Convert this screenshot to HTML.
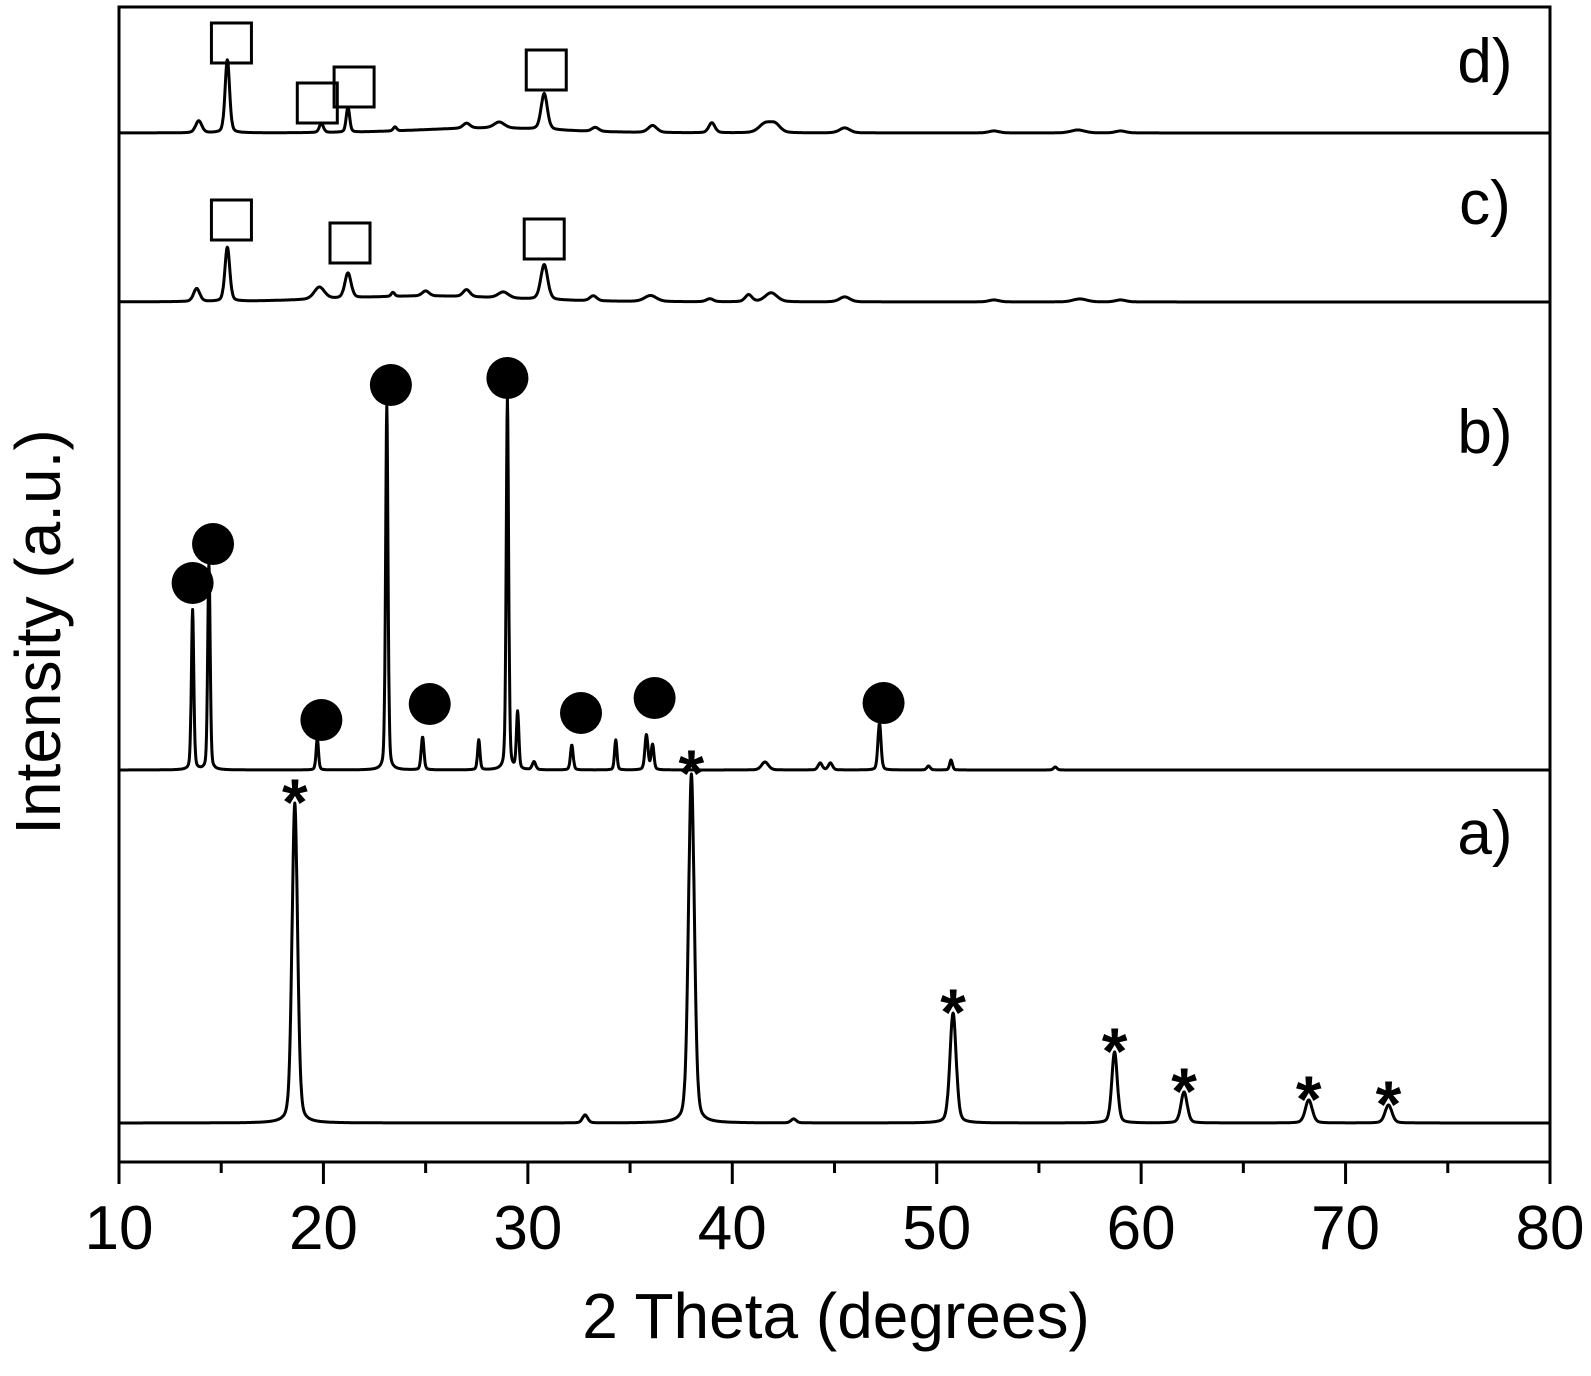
<!DOCTYPE html>
<html><head><meta charset="utf-8"><style>
html,body{margin:0;padding:0;background:#fff;}
svg{display:block;font-family:"Liberation Sans",Arial,sans-serif;}
</style></head><body>
<svg id="chart" width="1591" height="1376" viewBox="0 0 1591 1376" xmlns="http://www.w3.org/2000/svg">
<rect x="119" y="7" width="1431" height="1155" fill="none" stroke="#000" stroke-width="3"/>
<g id="xticks"></g>
<g id="series"></g>
<g id="markers"></g>
<text x="836" y="1338" font-size="64" text-anchor="middle">2 Theta (degrees)</text>
<text transform="translate(60,632) rotate(-90)" font-size="64" text-anchor="middle">Intensity (a.u.)</text>
<text x="1485" y="82" font-size="62" text-anchor="middle">d)</text>
<text x="1485" y="224" font-size="62" text-anchor="middle">c)</text>
<text x="1485" y="453" font-size="62" text-anchor="middle">b)</text>
<text x="1485" y="854" font-size="62" text-anchor="middle">a)</text>
</svg>
<script>
const xTicks = [10,20,30,40,50,60,70,80];
const xMinor = [15,25,35,45,55,65,75];
// series a
const aPos = [18.6, 32.8, 38.0, 43.0, 50.8, 58.7, 62.1, 68.2, 72.1];
const aHt  = [320, 8, 349, 4, 110, 71, 31, 23, 18];
const aWd  = [0.16, 0.15, 0.17, 0.15, 0.18, 0.16, 0.18, 0.2, 0.2];
const aStar = [18.6, 38.0, 50.8, 58.7, 62.1, 68.2, 72.1];
// series b
const bPos = [13.6, 14.4, 19.7, 23.1, 24.85, 27.6, 29.0, 29.5, 30.3, 32.15, 34.3, 35.8, 36.1, 41.6, 44.3, 44.8, 47.2, 49.6, 50.7, 55.8];
const bHt  = [160, 206, 32, 365, 33, 30, 372, 57, 8, 25, 30, 35, 25, 8, 7, 7, 47, 4, 10, 3];
const bWd  = [0.07, 0.07, 0.07, 0.07, 0.08, 0.07, 0.07, 0.07, 0.1, 0.08, 0.07, 0.09, 0.08, 0.2, 0.12, 0.12, 0.09, 0.1, 0.08, 0.1];
const bDot = [13.6, 14.6, 19.9, 23.3, 25.2, 29.0, 32.6, 36.2, 47.4];
const bDotH = [187, 226, 50, 385, 66, 392, 57, 72, 67];
// series c
const cPos = [13.8, 15.3, 19.8, 21.2, 23.4, 25.0, 27.0, 28.8, 30.8, 33.2, 36.0, 38.9, 40.8, 41.9, 45.5, 52.8, 57.0, 59.0, 25.0];
const cHt  = [13, 54, 12, 25, 4, 5, 7, 6, 35, 5, 6, 3, 7, 9, 5, 2, 3, 2, 6];
const cWd  = [0.18, 0.14, 0.3, 0.18, 0.1, 0.2, 0.2, 0.3, 0.2, 0.2, 0.35, 0.2, 0.2, 0.35, 0.3, 0.3, 0.4, 0.3, 5.0];
const cBox = [15.5, 21.3, 30.8];
const cBoxH = [82, 59, 63];
// series d
const dPos = [13.9, 15.3, 19.9, 21.2, 23.5, 27.0, 28.6, 30.8, 33.3, 36.1, 39.0, 41.6, 42.1, 45.5, 52.8, 56.9, 59.0, 28.0];
const dHt  = [12, 73, 9, 25, 4, 5, 6, 36, 4, 7, 10, 9, 8, 5, 2, 3, 2, 5];
const dWd  = [0.18, 0.13, 0.12, 0.1, 0.1, 0.2, 0.3, 0.18, 0.2, 0.25, 0.18, 0.35, 0.3, 0.3, 0.3, 0.4, 0.3, 4.0];
const dBox = [15.5, 19.7, 21.5, 30.9];
const dBoxH = [90, 30, 46, 63];

const NS = "http://www.w3.org/2000/svg";
const X0 = 119, X1 = 1550, D0 = 10, D1 = 80;
function xs(d){ return X0 + (d - D0) * (X1 - X0) / (D1 - D0); }
function ys(base, v){ return base - v; }
function mk(tag, attrs, parent){ const e=document.createElementNS(NS,tag); for(const k in attrs) e.setAttribute(k,attrs[k]); parent.appendChild(e); return e; }

const gx = document.getElementById('xticks');
xTicks.forEach(t=>{
  const l = mk('line',{x1:xs(t),x2:xs(t),y1:1162,y2:1184,stroke:'#000','stroke-width':3},gx);
  
  
  const tx = mk('text',{x:xs(t),y:1249,'font-size':62,'text-anchor':'middle'},gx);
  tx.textContent = t;
  
  
});
xMinor.forEach(t=>{
  const l = mk('line',{x1:xs(t),x2:xs(t),y1:1162,y2:1173,stroke:'#000','stroke-width':3},gx);
  
  
});

function profile(pos, ht, wd, d){
  let s = 0;
  for(let i=0;i<pos.length;i++){
    const z = (d-pos[i])/wd[i];
    s += ht[i]*(0.7*Math.exp(-z*z*0.693) + 0.3/(1+z*z));
  }
  return s;
}
const gs = document.getElementById('series');
function drawSeries(name, base, pos, ht, wd){
  let p = '';
  for(let d=D0; d<=D1+1e-9; d+=0.02){
    p += (p?'L':'M') + xs(d).toFixed(1) + ',' + ys(base, profile(pos,ht,wd,d)).toFixed(1);
  }
  const e = mk('path',{d:p,fill:'none',stroke:'#000','stroke-width':3,'stroke-linejoin':'round'},gs);
  
  
}
drawSeries('series-a-line',1123,aPos,aHt,aWd);
drawSeries('series-b-line',770,bPos,bHt,bWd);
drawSeries('series-c-line',302,cPos,cHt,cWd);
drawSeries('series-d-line',133,dPos,dHt,dWd);

const gm = document.getElementById('markers');
aStar.forEach(p=>{
  const h = profile(aPos,aHt,aWd,p);
  const t = mk('text',{x:xs(p),y:ys(1123,h)+22,'font-size':66,'font-weight':'bold','text-anchor':'middle'},gm);
  t.textContent='*';
  
  
});
bDot.forEach((p,i)=>{
  const c = mk('circle',{cx:xs(p),cy:ys(770,bDotH[i]),r:21,fill:'#000'},gm);
  
  
});
function boxes(arr, hts, base){
  arr.forEach((p,i)=>{
    const r = mk('rect',{x:xs(p)-20,y:ys(base,hts[i])-20,width:40,height:40,fill:'#fff','fill-opacity':0,stroke:'#000','stroke-width':3},gm);
    
    
  });
}
boxes(cBox,cBoxH,302);
boxes(dBox,dBoxH,133);
</script>
</body></html>
